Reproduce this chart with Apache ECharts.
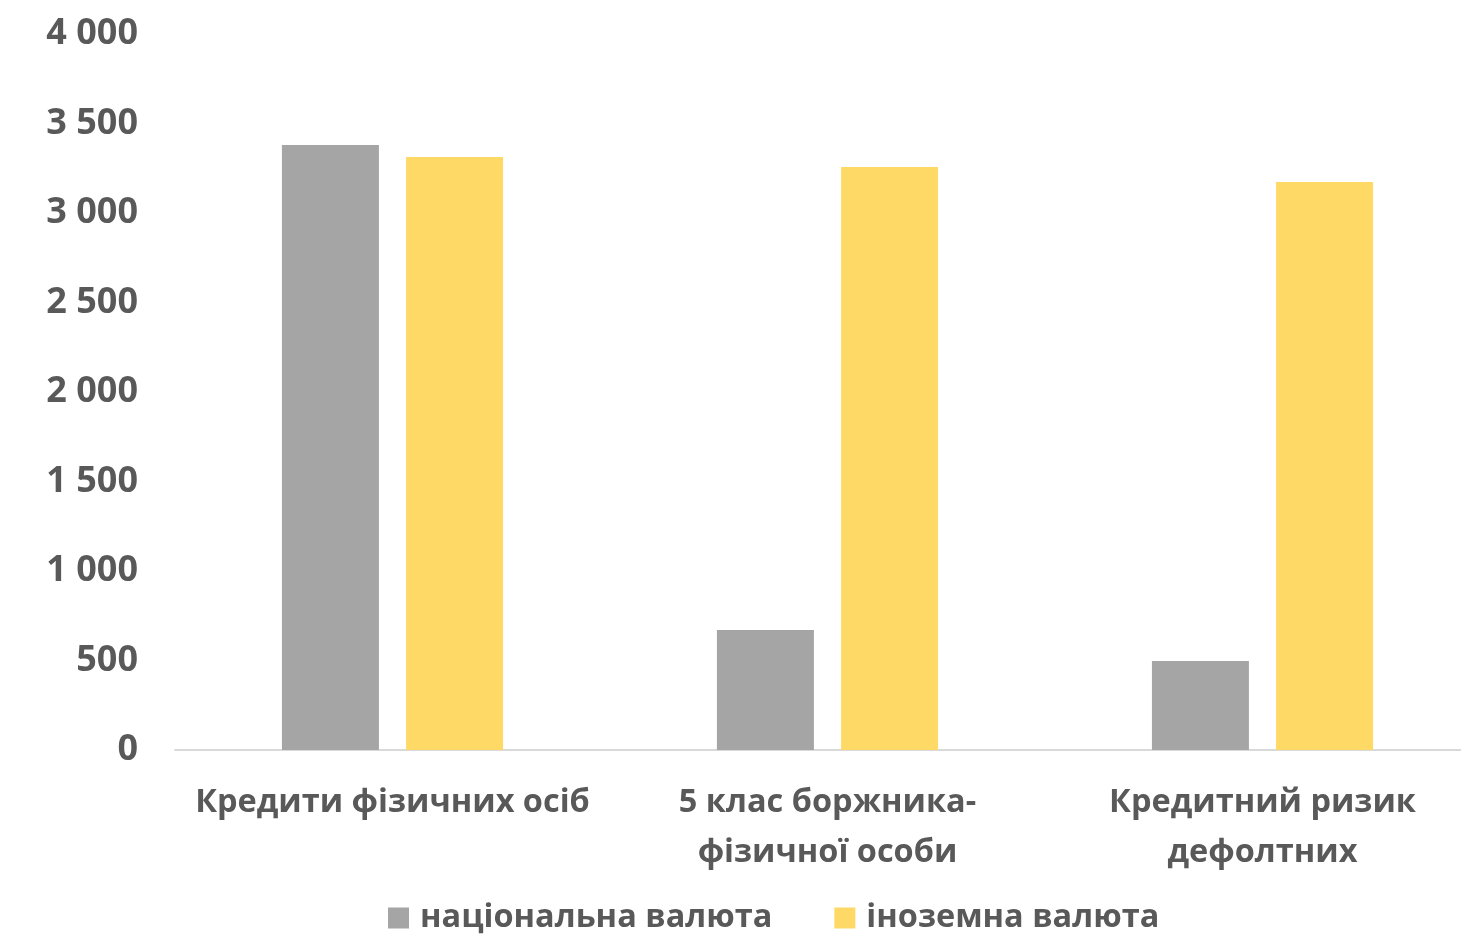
<!DOCTYPE html>
<html>
<head>
<meta charset="utf-8">
<script src="https://cdn.jsdelivr.net/npm/echarts@6/dist/echarts.min.js"></script>
<style>
html,body{margin:0;padding:0;background:#fff;}
#chart{width:1461px;height:934px;}
</style>
</head>
<body>
<div id="chart"></div>
<script>
const categories = ["Кредити фізичних осіб", "5 клас боржника-\nфізичної особи", "Кредитний ризик\nдефолтних"];
const seriesNames = ["національна валюта", "іноземна валюта"];
const nationalValues = [3380, 670, 497];
const foreignValues = [3313, 3257, 3173];
const yTicks = [0, 500, 1000, 1500, 2000, 2500, 3000, 3500, 4000];

const FONT = "Open Sans";
const TXT = "#595959";
const chart = echarts.init(document.getElementById('chart'), null, {renderer: 'canvas'});
chart.setOption({
  animation: false,
  backgroundColor: '#ffffff',
  textStyle: {fontFamily: FONT, fontWeight: 'bold', color: TXT},
  grid: {left: 175, width: 1305, top: 34, height: 716, containLabel: false, outerBoundsMode: 'none'},
  legend: {
    data: seriesNames,
    top: 900,
    left: 388,
    padding: 0,
    itemWidth: 21, itemHeight: 21, itemGap: 62,
    icon: 'rect',
    textStyle: {fontFamily: FONT, fontWeight: 'bold', fontSize: 32.5, lineHeight: 36, color: TXT, padding: [0,0,0,6]}
  },
  xAxis: {
    type: 'category',
    data: categories,
    axisLine: {show: true, lineStyle: {color: '#D9D9D9', width: 2}},
    axisTick: {show: false},
    axisLabel: {fontFamily: FONT, fontWeight: 'bold', fontSize: 32.5, color: TXT, margin: 28, lineHeight: 50, interval: 0}
  },
  yAxis: {
    type: 'value',
    min: yTicks[0], max: yTicks[yTicks.length-1], interval: 500,
    axisLine: {show: false}, axisTick: {show: false},
    splitLine: {show: false},
    axisLabel: {
      fontFamily: FONT, fontWeight: 'bold', fontSize: 36, color: TXT, margin: 37,
      formatter: v => String(v).replace(/\B(?=(\d{3})+(?!\d))/g, ' ')
    }
  },
  series: [
    {name: seriesNames[0], type: 'bar', data: nationalValues, barWidth: 97, barGap: '28%', itemStyle: {color: '#A5A5A5'}},
    {name: seriesNames[1], type: 'bar', data: foreignValues, barWidth: 97, itemStyle: {color: '#FFD966'}}
  ]
});
</script>
</body>
</html>
